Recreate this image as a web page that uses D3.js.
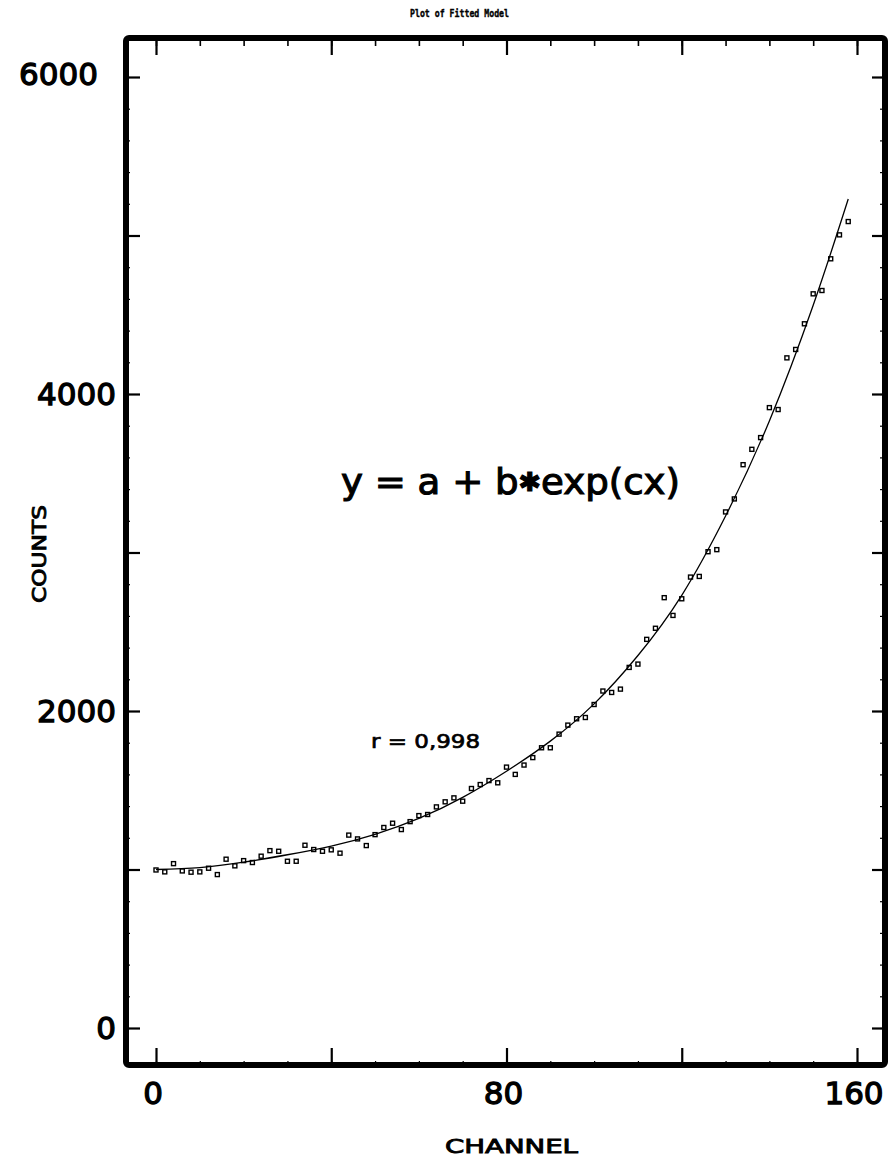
<!DOCTYPE html>
<html><head><meta charset="utf-8">
<script src="https://cdn.jsdelivr.net/npm/d3@7"></script>
<style>html,body{margin:0;padding:0;background:#fff;} svg{display:block;}</style>
</head><body>
<svg id="chart" width="891" height="1162"></svg>
<script>
// ---- data ----
const channels = [0,2,4,6,8,10,12,14,16,18,20,22,24,26,28,30,32,34,36,38,
  40,42,44,46,48,50,52,54,56,58,60,62,64,66,68,70,72,74,76,78,
  80,82,84,86,88,90,92,94,96,98,100,102,104,106,108,110,112,114,116,118,
  120,122,124,126,128,130,132,134,136,138,140,142,144,146,148,150,152,154,156,158];
const counts = [997,985,1037,991,983,985,1008,968,1065,1023,1056,1044,1084,1119,1115,1052,1052,1153,1126,1115,
  1124,1103,1217,1193,1151,1220,1265,1292,1252,1302,1340,1347,1395,1427,1452,1431,1511,1536,1561,1547,
  1646,1600,1659,1706,1768,1768,1854,1911,1951,1959,2041,2126,2117,2138,2275,2296,2452,2522,2715,2603,
  2708,2845,2849,3005,3018,3256,3338,3554,3651,3725,3914,3902,4228,4281,4443,4632,4653,4853,5004,5088];
const fitChannels = [0,10,20,30,40,50,60,70,80,90,100,110,120,130,140,150,158];
const fitCounts = [1000,1012,1046,1093,1148,1222,1322,1455,1620,1810,2045,2350,2730,3230,3830,4560,5230];
const xTickValues = [0,80,160];
const xTickLabels = ["0","80","160"];
const yTickValues = [0,2000,4000,6000];
const yTickLabels = ["0","2000","4000","6000"];
const titleText = "Plot of Fitted Model";
const xTitle = "CHANNEL";
const yTitle = "COUNTS";
const equationText = "y = a + b\u2731exp(cx)";
const rText = "r = 0,998";

// ---- layout ----
const svg = d3.select("#chart");
const frame = {left:126, right:885, top:38, bottom:1065};
const x = d3.scaleLinear().domain([0,160]).range([156,857]);
const y = d3.scaleLinear().domain([0,6000]).range([1028,77]);
const font = "'DejaVu Sans', sans-serif";

svg.append("rect").attr("width",891).attr("height",1162).attr("fill","#fff");

// title
svg.append("text").attr("x",410).attr("y",17)
  .attr("font-family","'DejaVu Sans Mono', monospace").attr("font-weight","bold")
  .attr("font-size",11).attr("textLength",99).attr("lengthAdjust","spacingAndGlyphs")
  .attr("stroke","#000").attr("stroke-width",0.4)
  .text(titleText);

// ticks helper
function ticks(axisFn, transform, values, size, width){
  const g = svg.append("g").attr("transform", transform)
    .call(axisFn.tickValues(values).tickSize(size).tickFormat(""));
  g.select(".domain").remove();
  g.selectAll(".tick line").attr("stroke","#000").attr("stroke-width",width);
  return g;
}
const xMajor = d3.range(0,161,40), xMinor = d3.range(0,161,10);
const yMajor = d3.range(0,6001,1000), yMinor = d3.range(0,6001,200);
ticks(d3.axisRight(y), `translate(${frame.left},0)`, yMinor, 4, 1.2);
ticks(d3.axisRight(y), `translate(${frame.left},0)`, yMajor, 14, 2.2);
ticks(d3.axisLeft(y), `translate(${frame.right},0)`, yMinor, 5, 1.2);
ticks(d3.axisLeft(y), `translate(${frame.right},0)`, yMajor, 13, 2.2);
ticks(d3.axisBottom(x), `translate(0,${frame.top})`, xMinor, 8, 1.6);
ticks(d3.axisBottom(x), `translate(0,${frame.top})`, xMajor, 17, 2.2);
ticks(d3.axisTop(x), `translate(0,${frame.bottom})`, xMinor, 4, 1.2);
ticks(d3.axisTop(x), `translate(0,${frame.bottom})`, xMajor, 17, 2.2);

// frame
svg.append("rect").attr("x",frame.left).attr("y",frame.top)
  .attr("width",frame.right-frame.left).attr("height",frame.bottom-frame.top)
  .attr("fill","none").attr("stroke","#000").attr("stroke-width",6)
  .attr("stroke-linejoin","round").attr("rx",3);

// tick labels
svg.append("g").selectAll("text").data(yTickValues).join("text")
  .attr("x", d => d === 6000 ? 98 : 116)
  .attr("y", d => y(d) + (d === 6000 ? -3 : 0))
  .attr("dy","0.36em")
  .attr("text-anchor","end")
  .attr("font-family",font).attr("font-size",31)
  .attr("stroke","#000").attr("stroke-width",1.3)
  .text((d,i) => yTickLabels[i]);
svg.append("g").selectAll("text").data(xTickValues).join("text")
  .attr("x", d => x(d) - 3)
  .attr("y", 1104)
  .attr("text-anchor","middle")
  .attr("font-family",font).attr("font-size",31)
  .attr("stroke","#000").attr("stroke-width",1.3)
  .text((d,i) => xTickLabels[i]);

// axis titles
svg.append("text").attr("x",445).attr("y",1153)
  .attr("font-family",font).attr("font-size",20)
  .attr("stroke","#000").attr("stroke-width",0.9)
  .attr("textLength",133).attr("lengthAdjust","spacingAndGlyphs")
  .text(xTitle);
svg.append("text").attr("transform","translate(46,603) rotate(-90)")
  .attr("font-family",font).attr("font-size",20)
  .attr("stroke","#000").attr("stroke-width",0.9)
  .attr("textLength",98).attr("lengthAdjust","spacingAndGlyphs")
  .text(yTitle);

// fitted curve
const fitData = fitChannels.map((c,i)=>[c, fitCounts[i]]);
svg.append("path").datum(fitData)
  .attr("fill","none").attr("stroke","#000").attr("stroke-width",1.3)
  .attr("d", d3.line().x(d=>x(d[0])).y(d=>y(d[1])).curve(d3.curveNatural));

// data points (open squares)
const pts = channels.map((c,i)=>[c, counts[i]]);
svg.append("g").selectAll("rect").data(pts).join("rect")
  .attr("x", d => x(d[0]) - 2).attr("y", d => y(d[1]) - 2)
  .attr("width",4).attr("height",4)
  .attr("fill","none").attr("stroke","#000").attr("stroke-width",1.4);

// annotations
const eqParts = equationText.split("\u2731");
const eq = svg.append("text").attr("x",341).attr("y",494)
  .attr("font-family",font).attr("font-size",36)
  .attr("stroke","#000").attr("stroke-width",1.1)
  .attr("textLength",339).attr("lengthAdjust","spacingAndGlyphs");
eq.append("tspan").text(eqParts[0]);
eq.append("tspan").attr("font-size",26).attr("dy",-3).text("\u2731");
eq.append("tspan").attr("dy",3).text(eqParts[1]);
svg.append("text").attr("x",371).attr("y",748)
  .attr("font-family",font).attr("font-size",20)
  .attr("stroke","#000").attr("stroke-width",0.7)
  .attr("textLength",109).attr("lengthAdjust","spacingAndGlyphs")
  .text(rText);
</script>
</body></html>
